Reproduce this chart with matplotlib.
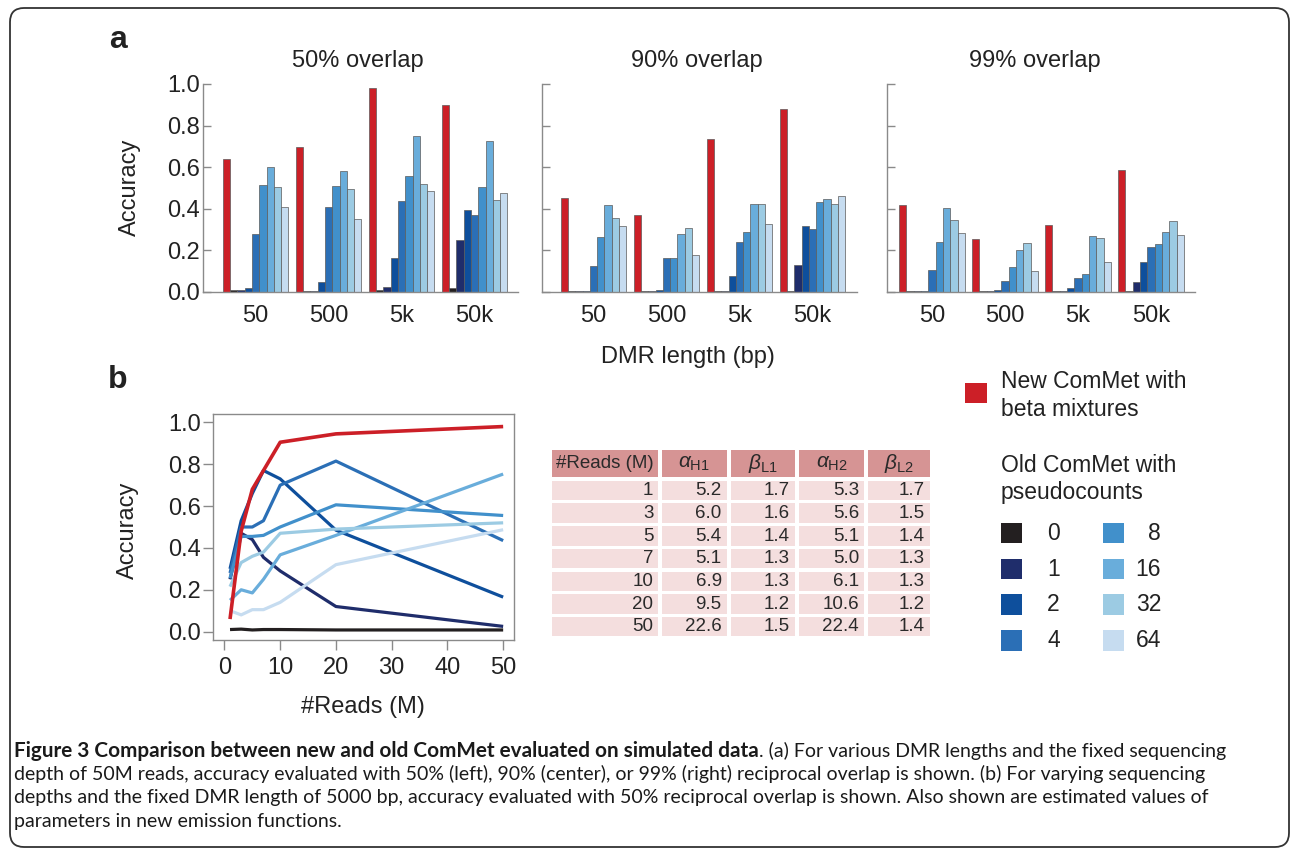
import matplotlib
matplotlib.use('Agg')
import matplotlib.pyplot as plt
from matplotlib.patches import Rectangle, FancyBboxPatch

W, H = 1292, 850
plt.rcParams['font.family'] = ['Liberation Sans', 'DejaVu Sans']
plt.rcParams['mathtext.fontset'] = 'custom'
plt.rcParams['mathtext.rm'] = 'Liberation Sans'
plt.rcParams['mathtext.it'] = 'Liberation Sans:italic'

# ---------------- data ----------------
dmr_lengths = ['50', '500', '5k', '50k']
overlap_titles = ['50% overlap', '90% overlap', '99% overlap']
pseudocounts = ['0', '1', '2', '4', '8', '16', '32', '64']

# each row: [new ComMet, pc0, pc1, pc2, pc4, pc8, pc16, pc32, pc64]
acc_overlap50 = [
    [0.640, 0.008, 0.008, 0.019, 0.280, 0.515, 0.600, 0.506, 0.408],
    [0.696, 0.005, 0.005, 0.050, 0.411, 0.510, 0.580, 0.496, 0.350],
    [0.982, 0.008, 0.026, 0.165, 0.437, 0.557, 0.752, 0.520, 0.486],
    [0.898, 0.019, 0.250, 0.395, 0.368, 0.507, 0.726, 0.440, 0.475],
]
acc_overlap90 = [
    [0.451, 0.006, 0.006, 0.006, 0.125, 0.266, 0.420, 0.357, 0.317],
    [0.370, 0.006, 0.006, 0.008, 0.165, 0.165, 0.280, 0.306, 0.180],
    [0.736, 0.006, 0.006, 0.078, 0.240, 0.290, 0.424, 0.424, 0.325],
    [0.880, 0.006, 0.130, 0.315, 0.304, 0.435, 0.445, 0.424, 0.460],
]
acc_overlap99 = [
    [0.416, 0.005, 0.005, 0.005, 0.104, 0.240, 0.405, 0.346, 0.285],
    [0.254, 0.005, 0.005, 0.008, 0.054, 0.118, 0.200, 0.235, 0.100],
    [0.320, 0.005, 0.005, 0.019, 0.069, 0.085, 0.270, 0.260, 0.146],
    [0.586, 0.005, 0.050, 0.144, 0.214, 0.230, 0.290, 0.340, 0.275],
]

reads_m = [1, 3, 5, 7, 10, 20, 50]
acc_new = [0.06, 0.48, 0.68, 0.77, 0.905, 0.945, 0.98]
acc_pc0 = [0.010, 0.012, 0.008, 0.010, 0.010, 0.008, 0.008]
acc_pc1 = [0.25, 0.47, 0.44, 0.355, 0.29, 0.12, 0.025]
acc_pc2 = [0.30, 0.53, 0.66, 0.77, 0.73, 0.485, 0.165]
acc_pc4 = [0.28, 0.50, 0.50, 0.53, 0.70, 0.815, 0.435]
acc_pc8 = [0.255, 0.455, 0.455, 0.46, 0.50, 0.606, 0.555]
acc_pc16 = [0.15, 0.20, 0.185, 0.25, 0.367, 0.46, 0.753]
acc_pc32 = [0.215, 0.33, 0.36, 0.38, 0.47, 0.49, 0.52]
acc_pc64 = [0.10, 0.08, 0.105, 0.105, 0.14, 0.32, 0.487]

table_header = ['#Reads (M)', r'$\alpha_{\mathrm{H1}}$', r'$\beta_{\mathrm{L1}}$',
                r'$\alpha_{\mathrm{H2}}$', r'$\beta_{\mathrm{L2}}$']
table_reads = [1, 3, 5, 7, 10, 20, 50]
alpha_h1 = [5.2, 6.0, 5.4, 5.1, 6.9, 9.5, 22.6]
beta_l1 = [1.7, 1.6, 1.4, 1.3, 1.3, 1.2, 1.5]
alpha_h2 = [5.3, 5.6, 5.1, 5.0, 6.1, 10.6, 22.4]
beta_l2 = [1.7, 1.5, 1.4, 1.3, 1.3, 1.2, 1.4]

# ---------------- style ----------------
RED = '#cc1f27'
PC_COLORS = ['#231f20', '#1f2d6b', '#0e4f9c', '#2b6fb6', '#4190cb',
             '#69addb', '#9ccbe3', '#c6dcf0']
BAR_COLORS = [RED] + PC_COLORS
GRAY = '#8a8a8a'
TXT = '#222222'
FS = 17

fig = plt.figure(figsize=(W / 100, H / 100), dpi=100)


def px_axes(L, T, R, B):
    return fig.add_axes([L / W, 1 - B / H, (R - L) / W, (B - T) / H])


# overlay axes in pixel coordinates (frame, labels, table, legend, caption)
ov = fig.add_axes([0, 0, 1, 1])
ov.set_xlim(0, W)
ov.set_ylim(H, 0)
ov.axis('off')

ov.add_patch(FancyBboxPatch((10, 8), 1279, 839,
                            boxstyle='round,pad=0,rounding_size=14',
                            fill=False, ec='#333333', lw=1.3, clip_on=False))

# ---------------- panel a ----------------
panel_specs = [(203, 518, -2.7, acc_overlap50),
               (541.7, 856.7, -2.6, acc_overlap90),
               (886.7, 1195, -1.7, acc_overlap99)]
title_x = [357.5, 696.5, 1034.5]
for i, (L, R, x0, data) in enumerate(panel_specs):
    ax = px_axes(L, 84, R, 292)
    for g, row in enumerate(data):
        for k, v in enumerate(row):
            ax.bar(g * 10 + k, v, width=1, align='edge', color=BAR_COLORS[k],
                   edgecolor='#5a5a5a', linewidth=0.5, zorder=2)
    ax.set_xlim(x0, x0 + (R - L) / 7.3)
    ax.set_ylim(0, 1)
    for s in ['top', 'right']:
        ax.spines[s].set_visible(False)
    for s in ['left', 'bottom']:
        ax.spines[s].set_color(GRAY)
        ax.spines[s].set_linewidth(1.0)
    ax.set_yticks([0, 0.2, 0.4, 0.6, 0.8, 1.0])
    ax.tick_params(axis='y', direction='in', length=6, color=GRAY, width=1.0,
                   labelsize=FS, pad=2.5, labelcolor=TXT)
    if i == 0:
        ax.set_yticklabels(['%.1f' % t for t in ax.get_yticks()])
    else:
        ax.set_yticklabels([])
    ax.set_xticks([g * 10 + 4.5 for g in range(4)])
    ax.set_xticklabels(dmr_lengths)
    ax.tick_params(axis='x', length=0, labelsize=FS, pad=9, labelcolor=TXT)
    ax.patch.set_alpha(0)
    ov.text(title_x[i], 61, overlap_titles[i], ha='center', va='center',
            fontsize=FS, color=TXT)

ov.text(129.5, 187, 'Accuracy', rotation=90, ha='center', va='center',
        fontsize=FS, color=TXT)
ov.text(688, 357, 'DMR length (bp)', ha='center', va='center', fontsize=FS, color=TXT)
ov.text(118, 40, 'a', ha='center', va='center', fontsize=23, fontweight='bold', color=TXT)
ov.text(118, 380, 'b', ha='center', va='center', fontsize=23, fontweight='bold', color=TXT)

# ---------------- panel b ----------------
axb = px_axes(213.3, 414, 514.3, 640)
line_series = [acc_pc0, acc_pc1, acc_pc2, acc_pc4, acc_pc8, acc_pc16, acc_pc32, acc_pc64]
for ys, c in zip(line_series, PC_COLORS):
    axb.plot(reads_m, ys, color=c, lw=2.3, solid_capstyle='butt')
axb.plot(reads_m, acc_new, color=RED, lw=2.6, solid_capstyle='butt')
axb.set_xlim(-2, 52)
axb.set_ylim(-0.04, 1.04)
for s in axb.spines.values():
    s.set_color(GRAY)
    s.set_linewidth(1.0)
axb.set_xticks([0, 10, 20, 30, 40, 50])
axb.set_yticks([0, 0.2, 0.4, 0.6, 0.8, 1.0])
axb.set_yticklabels(['%.1f' % t for t in axb.get_yticks()])
axb.tick_params(direction='out', length=7, color=GRAY, width=1.0, labelsize=FS,
                labelcolor=TXT)
axb.tick_params(axis='x', pad=5)
axb.tick_params(axis='y', pad=2)
ov.text(128, 530, 'Accuracy', rotation=90, ha='center', va='center', fontsize=FS, color=TXT)
ov.text(363, 707, '#Reads (M)', ha='center', va='center', fontsize=FS, color=TXT)

# ---------------- table ----------------
col_left = [551.7, 661.7, 730.7, 799.3, 868.3]
col_right = [658.3, 726.7, 795.0, 864.0, 930.0]
HEAD_C = '#d69494'
BODY_C = '#f4dede'
TFS = 13.5
for j in range(5):
    ov.add_patch(Rectangle((col_left[j], 450), col_right[j] - col_left[j], 27,
                           fc=HEAD_C, ec='none'))
    ov.text((col_left[j] + col_right[j]) / 2, 463.5, table_header[j], ha='center',
            va='center', fontsize=TFS + (1.5 if j else 0), color='#2a2a2a')
columns = [[str(v) for v in table_reads],
           ['%.1f' % v for v in alpha_h1], ['%.1f' % v for v in beta_l1],
           ['%.1f' % v for v in alpha_h2], ['%.1f' % v for v in beta_l2]]
for r in range(len(table_reads)):
    top = 480.7 + r * 22.7
    for j in range(5):
        ov.add_patch(Rectangle((col_left[j], top), col_right[j] - col_left[j], 19.5,
                               fc=BODY_C, ec='none'))
        ov.text(col_right[j] - 5, top + 10, columns[j][r], ha='right', va='center',
                fontsize=TFS, color='#2a2a2a')

# ---------------- legend ----------------
LFS = 16.5
ov.add_patch(Rectangle((965, 382.7), 21.5, 20.6, fc=RED, ec='none'))
ov.text(1001, 388.3, 'New ComMet with', ha='left', va='baseline', fontsize=LFS, color=TXT)
ov.text(1001, 415.5, 'beta mixtures', ha='left', va='baseline', fontsize=LFS, color=TXT)
ov.text(1001, 471.7, 'Old ComMet with', ha='left', va='baseline', fontsize=LFS, color=TXT)
ov.text(1001, 498.5, 'pseudocounts', ha='left', va='baseline', fontsize=LFS, color=TXT)
row_tops = [522.7, 558.7, 594.3, 630.0]
for idx, lab in enumerate(pseudocounts):
    col, row = divmod(idx, 4)
    x = 1001 if col == 0 else 1103.3
    ov.add_patch(Rectangle((x, row_tops[row]), 21, 20.5, fc=PC_COLORS[idx], ec='none'))
    if col == 0:
        ov.text(1047, row_tops[row] + 10.5, lab, ha='left', va='center', fontsize=LFS, color=TXT)
    else:
        ov.text(1161, row_tops[row] + 10.5, lab, ha='right', va='center', fontsize=LFS, color=TXT)

# ---------------- caption ----------------
CAP_FONT = ['Lato', 'DejaVu Sans']
CAP_C = '#1a1a1a'
cap_bold = 'Figure 3 Comparison between new and old ComMet evaluated on simulated data'
cap_l1 = '. (a) For various DMR lengths and the fixed sequencing'
cap_lines = ['depth of 50M reads, accuracy evaluated with 50% (left), 90% (center), or 99% (right) reciprocal overlap is shown. (b) For varying sequencing',
             'depths and the fixed DMR length of 5000 bp, accuracy evaluated with 50% reciprocal overlap is shown. Also shown are estimated values of',
             'parameters in new emission functions.']
x0c, base0, pitch = 14, 757, 23.2
s0 = 12
renderer = fig.canvas.get_renderer()


def width_of(txt, size, weight='normal'):
    t = ov.text(0, 0, txt, fontsize=size, fontweight=weight, family=CAP_FONT)
    w = t.get_window_extent(renderer).width
    t.remove()
    return w


# regular size: fit lines 2 and 3 to their measured right ends
w2 = width_of(cap_lines[0], s0)
w3 = width_of(cap_lines[1], s0)
s_reg = s0 * 0.5 * ((1190 - x0c) / w2 + (1218 - x0c) / w3)
# bold size: bold part ends near x=757
s_bold = s0 * (757 - x0c) / width_of(cap_bold, s0, 'bold')

tb = ov.text(x0c, base0, cap_bold, fontsize=s_bold, fontweight='bold', family=CAP_FONT,
             ha='left', va='baseline', color=CAP_C)
xb = tb.get_window_extent(renderer).x1
ov.text(xb + 0.5, base0, cap_l1, fontsize=s_reg, family=CAP_FONT, ha='left',
        va='baseline', color=CAP_C)
for i, line in enumerate(cap_lines):
    ov.text(x0c, base0 + (i + 1) * pitch, line, fontsize=s_reg, family=CAP_FONT,
            ha='left', va='baseline', color=CAP_C)

fig.savefig('out.png', dpi=100)
